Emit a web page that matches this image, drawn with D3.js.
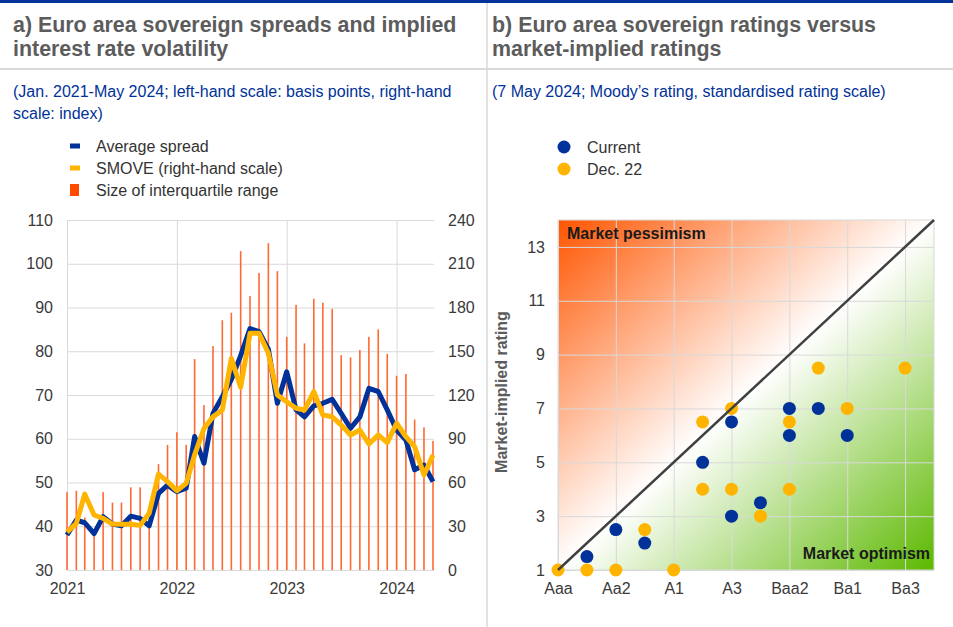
<!DOCTYPE html>
<html>
<head>
  <meta charset="utf-8">
  <title>Euro area sovereign spreads and ratings</title>
  <script src="https://d3js.org/d3.v7.min.js"></script>
  <style>
    body { margin: 0; background: #fff; }
    text { font-family: "Liberation Sans", Arial, sans-serif; }
  </style>
</head>
<body>
  <script>
    // Panel a: monthly observations, Jan. 2021 - May 2024
    const months = d3.timeMonth.range(new Date(2021, 0, 1), new Date(2024, 5, 1));
    const avgSpread = [38.0, 41.4, 40.8, 38.3, 42.2, 40.5, 40.1, 42.3, 41.8, 40.1,
      47.5, 49.4, 47.9, 48.7, 60.5, 54.4, 65.8, 69.6, 73.5, 79.0,
      85.2, 84.5, 80.5, 68.1, 75.3, 66.6, 65.0, 67.5, 68.1, 69.0,
      65.8, 62.4, 65.0, 71.5, 70.8, 66.6, 62.0, 59.7, 52.9, 54.0, 50.2];
    const smove = [26, 32, 52, 37.7, 35.4, 31.5, 31.3, 31.3, 30.6, 38.9,
      65.8, 60.6, 54.4, 59.4, 79, 97, 105, 109.7, 145, 125.3,
      162.3, 162.3, 148.6, 120, 115.4, 110.9, 109.7, 122.3, 106.3, 105.1,
      99.4, 92.6, 96, 86.4, 92.6, 87.3, 100.6, 91.4, 84.6, 65.1, 78.9];
    const iqrSize = [47.8, 48.1, 42, 39, 47.8, 45.4, 45.4, 48.9, 48.9, 40,
      54.2, 58.6, 61.5, 58.6, 78.2, 67.7, 81.2, 87.1, 88.8, 102.9,
      92.6, 97.9, 104.7, 98.3, 83.3, 90.6, 81.8, 92, 91.1, 89.7,
      79.1, 78.6, 80.3, 83.3, 85, 79.4, 74.4, 74.8, 64.4, 62.6, 59.5];
    const yearTicks = [2021, 2022, 2023, 2024];
    const leftTicks = [30, 40, 50, 60, 70, 80, 90, 100, 110];
    const rightTicks = [0, 30, 60, 90, 120, 150, 180, 210, 240];

    // Panel b: Moody's rating vs market-implied rating
    const ratingTicks = [1, 3, 5, 7, 9, 11, 13];
    const ratingLabels = ['Aaa', 'Aa2', 'A1', 'A3', 'Baa2', 'Ba1', 'Ba3'];
    const impliedTicks = [1, 3, 5, 7, 9, 11, 13];
    const currentRating = [2, 3, 4, 6, 7, 7, 8, 9, 9, 10, 11];
    const currentImplied = [1.5, 2.5, 2, 5, 6.5, 3, 3.5, 7, 6, 7, 6];
    const dec22Rating = [1, 2, 3, 4, 5, 6, 6, 7, 7, 8, 9, 9, 10, 11, 13];
    const dec22Implied = [1, 1, 1, 2.5, 1, 6.5, 4, 7, 4, 3, 6.5, 4, 8.5, 7, 8.5];

    const blue = '#003299';
    const yellow = '#ffb400';
    const orange = '#ff6a33';
    const grid = '#d9d9d9';

    const width = 953;
    const height = 627;

    const svg = d3.select('body').append('svg')
      .attr('width', width)
      .attr('height', height);

    // Frame: top rule, header separator, panel separator
    svg.append('rect').attr('x', 0).attr('y', 0).attr('width', width).attr('height', 3).attr('fill', blue);
    svg.append('line').attr('x1', 0).attr('x2', width).attr('y1', 69).attr('y2', 69)
      .attr('stroke', grid).attr('stroke-width', 2);
    svg.append('line').attr('x1', 487).attr('x2', 487).attr('y1', 3).attr('y2', height)
      .attr('stroke', grid).attr('stroke-width', 1.5);

    // Titles and subtitles
    function lines(x, y0, step, rows, size, weight, color) {
      rows.forEach((t, i) => {
        svg.append('text')
          .attr('x', x).attr('y', y0 + i * step).attr('dy', '0.35em')
          .attr('font-size', size).attr('font-weight', weight).attr('fill', color)
          .text(t);
      });
    }
    lines(13, 25, 24, ['a) Euro area sovereign spreads and implied', 'interest rate volatility'], 21.4, 'bold', '#5c5c5c');
    lines(492, 25, 24, ['b) Euro area sovereign ratings versus', 'market-implied ratings'], 21.4, 'bold', '#5c5c5c');
    lines(13, 91, 22, ['(Jan. 2021-May 2024; left-hand scale: basis points, right-hand', 'scale: index)'], 16, 'normal', blue);
    lines(492, 91, 22, ['(7 May 2024; Moody\u2019s rating, standardised rating scale)'], 16, 'normal', blue);

    // ---------- Panel a ----------
    const x = d3.scaleTime()
      .domain([months[0], months[months.length - 1]])
      .range([67, 433]);
    const yL = d3.scaleLinear().domain([30, 110]).range([570, 220]);
    const yR = d3.scaleLinear().domain([0, 240]).range([570, 220]);

    function styleAxis(g) {
      g.select('.domain').remove();
      g.selectAll('.tick line').attr('stroke', grid);
      g.selectAll('.tick text').attr('font-size', 16).attr('fill', '#3a3a3a')
        .attr('font-family', '"Liberation Sans", Arial, sans-serif');
    }

    svg.append('g')
      .attr('transform', 'translate(67,0)')
      .call(d3.axisLeft(yL).tickValues(leftTicks).tickSize(-367).tickPadding(14))
      .call(styleAxis);

    svg.append('g')
      .attr('transform', 'translate(434,0)')
      .call(d3.axisRight(yR).tickValues(rightTicks).tickSize(0).tickPadding(14))
      .call(styleAxis);

    svg.append('g')
      .attr('transform', 'translate(0,570)')
      .call(d3.axisBottom(x)
        .tickValues(yearTicks.map(yr => new Date(yr, 0, 1)))
        .tickFormat(d3.timeFormat('%Y'))
        .tickSize(-350).tickPadding(13))
      .call(styleAxis);

    // Interquartile range bars
    svg.append('g').selectAll('rect')
      .data(iqrSize)
      .enter().append('rect')
      .attr('x', (d, i) => x(months[i]) - 0.8)
      .attr('width', 1.6)
      .attr('y', d => yL(d))
      .attr('height', d => yL(30) - yL(d))
      .attr('fill', orange);

    // Lines
    const spreadLine = d3.line().x((d, i) => x(months[i])).y(d => yL(d));
    const smoveLine = d3.line().x((d, i) => x(months[i])).y(d => yR(d));

    svg.append('path').datum(avgSpread)
      .attr('d', spreadLine)
      .attr('fill', 'none').attr('stroke', blue).attr('stroke-width', 5)
      .attr('stroke-linejoin', 'round');
    svg.append('path').datum(smove)
      .attr('d', smoveLine)
      .attr('fill', 'none').attr('stroke', yellow).attr('stroke-width', 5)
      .attr('stroke-linejoin', 'round');

    // Legend a
    const legA = svg.append('g');
    legA.append('rect').attr('x', 70).attr('y', 143.5).attr('width', 10).attr('height', 5).attr('fill', blue);
    legA.append('rect').attr('x', 70).attr('y', 165.5).attr('width', 10).attr('height', 5).attr('fill', yellow);
    legA.append('rect').attr('x', 70).attr('y', 184).attr('width', 9).attr('height', 12).attr('fill', '#ff4b00');
    ['Average spread', 'SMOVE (right-hand scale)', 'Size of interquartile range'].forEach((t, i) => {
      legA.append('text').attr('x', 96).attr('y', 146 + i * 22).attr('dy', '0.35em')
        .attr('font-size', 16).attr('fill', '#333').text(t);
    });

    // ---------- Panel b ----------
    const xb = d3.scaleLinear().domain([1, 14]).range([558, 934]);
    const yb = d3.scaleLinear().domain([1, 14]).range([570, 220]);

    // Background gradient: orange above the diagonal, green below, white on it
    const ax = xb(1), ay = yb(1), bx = xb(14), by = yb(14);
    const len = Math.hypot(bx - ax, by - ay);
    const nx = (ay - by) / len, ny = (bx - ax) / len;
    const dist = Math.abs((xb(1) - ax) * nx + (yb(14) - ay) * ny);
    const mx = (ax + bx) / 2, my = (ay + by) / 2;

    const grad = svg.append('defs').append('linearGradient')
      .attr('id', 'bgGrad')
      .attr('gradientUnits', 'userSpaceOnUse')
      .attr('x1', mx - dist * nx).attr('y1', my - dist * ny)
      .attr('x2', mx + dist * nx).attr('y2', my + dist * ny);
    grad.append('stop').attr('offset', 0).attr('stop-color', '#ff5500');
    grad.append('stop').attr('offset', 0.5).attr('stop-color', '#ffffff');
    grad.append('stop').attr('offset', 1).attr('stop-color', '#5cb800');

    svg.append('rect')
      .attr('x', xb(1)).attr('y', yb(14))
      .attr('width', xb(14) - xb(1)).attr('height', yb(1) - yb(14))
      .attr('fill', 'url(#bgGrad)');

    svg.append('g')
      .attr('transform', `translate(0,${yb(1)})`)
      .call(d3.axisBottom(xb).tickValues(ratingTicks)
        .tickFormat((d, i) => ratingLabels[i])
        .tickSize(-(yb(1) - yb(14))).tickPadding(13))
      .call(styleAxis);

    svg.append('g')
      .attr('transform', `translate(${xb(1)},0)`)
      .call(d3.axisLeft(yb).tickValues(impliedTicks)
        .tickSize(-(xb(14) - xb(1))).tickPadding(13))
      .call(styleAxis);

    svg.append('rect')
      .attr('x', xb(1)).attr('y', yb(14))
      .attr('width', xb(14) - xb(1)).attr('height', yb(1) - yb(14))
      .attr('fill', 'none').attr('stroke', grid);

    // Dots
    svg.append('g').selectAll('circle')
      .data(currentRating)
      .enter().append('circle')
      .attr('cx', d => xb(d))
      .attr('cy', (d, i) => yb(currentImplied[i]))
      .attr('r', 6.5)
      .attr('fill', blue);

    svg.append('g').selectAll('circle')
      .data(dec22Rating)
      .enter().append('circle')
      .attr('cx', d => xb(d))
      .attr('cy', (d, i) => yb(dec22Implied[i]))
      .attr('r', 6.5)
      .attr('fill', yellow);

    // 45-degree line
    svg.append('line')
      .attr('x1', xb(1)).attr('y1', yb(1))
      .attr('x2', xb(14)).attr('y2', yb(14))
      .attr('stroke', '#404040').attr('stroke-width', 2.5);

    svg.append('text').attr('x', 567).attr('y', 233).attr('dy', '0.35em')
      .attr('font-size', 16).attr('font-weight', 'bold').attr('fill', '#1a1a1a')
      .text('Market pessimism');
    svg.append('text').attr('x', 930).attr('y', 553).attr('dy', '0.35em')
      .attr('text-anchor', 'end')
      .attr('font-size', 16).attr('font-weight', 'bold').attr('fill', '#1a1a1a')
      .text('Market optimism');

    svg.append('text')
      .attr('transform', 'translate(501,392) rotate(-90)')
      .attr('dy', '0.35em')
      .attr('text-anchor', 'middle')
      .attr('font-size', 16).attr('font-weight', 'bold').attr('fill', '#5c5c5c')
      .text('Market-implied rating');

    // Legend b
    const legB = svg.append('g');
    [['Current', blue], ['Dec. 22', yellow]].forEach(([t, c], i) => {
      legB.append('circle').attr('cx', 564).attr('cy', 147 + i * 22).attr('r', 6.5).attr('fill', c);
      legB.append('text').attr('x', 587).attr('y', 147 + i * 22).attr('dy', '0.35em')
        .attr('font-size', 16).attr('fill', '#333').text(t);
    });
  </script>
</body>
</html>
